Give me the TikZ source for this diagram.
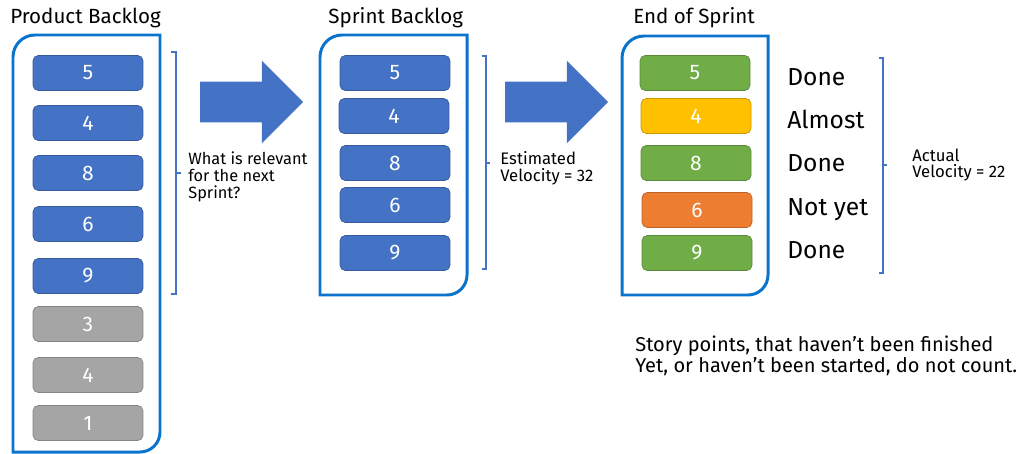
\documentclass[tikz,border=0pt]{standalone}
\usepackage{fontspec}
\setmainfont{Fira Sans}
\usetikzlibrary{positioning, shapes.arrows}
\definecolor{frameblue}{HTML}{0A74CC}
\definecolor{cardblue}{HTML}{4472C4}
\definecolor{cardgrey}{HTML}{A5A5A5}
\definecolor{cardgreen}{HTML}{70AD47}
\definecolor{cardyellow}{HTML}{FFC000}
\definecolor{cardorange}{HTML}{ED7D31}

\begin{document}
\begin{tikzpicture}[x=0.02cm, y=-0.02cm,
  frame/.style={draw=frameblue, line width=1.7pt},
  card/.style={rectangle, rounded corners=3pt, draw=#1!80!black, fill=#1, text=white,
               minimum width=2.2cm, minimum height=0.7cm, inner sep=0pt,
               font=\fontsize{12}{12}\selectfont},
  title/.style={anchor=west, inner sep=0pt, font=\fontsize{11.7}{12}\selectfont},
  status/.style={anchor=west, inner sep=0pt, text height=1.6ex, text depth=0.2ex,
                 font=\fontsize{14}{14}\selectfont},
  note/.style={anchor=west, inner sep=0pt, align=left},
  brk/.style={draw=cardblue, line width=0.6pt},
  bigarrow/.style={single arrow, fill=cardblue, inner sep=0pt,
                   minimum height=2.06cm, text height=0.4cm, text depth=0.4cm,
                   text width=0pt, single arrow head extend=0.42cm}]
\useasboundingbox (0,0) rectangle (1030,453);
% frames
\draw[frame] (13,452) -- (13,57) arc[start angle=180, end angle=270, radius=22]
  -- (160,35) -- (160,432) arc[start angle=0, end angle=90, radius=20] -- cycle;
\draw[frame] (320,295) -- (320,57) arc[start angle=180, end angle=270, radius=22]
  -- (467,35) -- (467,275) arc[start angle=0, end angle=90, radius=20] -- cycle;
\draw[frame] (622,295) -- (622,58) arc[start angle=180, end angle=270, radius=22]
  -- (768,36) -- (768,275) arc[start angle=0, end angle=90, radius=20] -- cycle;
\node[title] (tprod) at (10,18) {Product Backlog};
\node[title] (tspr) at (328,18) {Sprint Backlog};
\node[title] (tend) at (633,18) {End of Sprint};
% product backlog
\node[card=cardblue] (p1) at (88,73) {5};
\node[card=cardblue] (p2) at (88,123) {4};
\node[card=cardblue] (p3) at (88,173) {8};
\node[card=cardblue] (p4) at (88,224) {6};
\node[card=cardblue] (p5) at (88,276) {9};
\node[card=cardgrey] (p6) at (88,324) {3};
\node[card=cardgrey] (p7) at (88,375) {4};
\node[card=cardgrey] (p8) at (88,423) {1};
% sprint backlog
\node[card=cardblue] (s1) at (395,73) {5};
\node[card=cardblue] (s2) at (394,116) {4};
\node[card=cardblue] (s3) at (395,163) {8};
\node[card=cardblue] (s4) at (395,205) {6};
\node[card=cardblue] (s5) at (395,253) {9};
% end of sprint
\node[card=cardgreen] (e1) at (695,73) {5};
\node[card=cardyellow] (e2) at (696,116) {4};
\node[card=cardgreen] (e3) at (696,163) {8};
\node[card=cardorange] (e4) at (697,210) {6};
\node[card=cardgreen] (e5) at (697,253) {9};
\node[status] (d1) at (787,79) {Done};
\node[status] (d2) at (787,122) {Almost};
\node[status] (d3) at (787,165) {Done};
\node[status] (d4) at (787,209) {Not yet};
\node[status] (d5) at (787,252) {Done};
% arrows
\node[bigarrow] (ar1) at (241.5,102) {};
\node[bigarrow] (ar2) at (546.5,102) {};
% brackets
\draw[brk] (171,52) -- (176,52) -- (176,294) -- (171,294); \draw[brk] (176,173) -- (181,173);
\draw[brk] (482,56) -- (486,56) -- (486,269) -- (482,269); \draw[brk] (486,163) -- (490,163);
\draw[brk] (879,58) -- (883,58) -- (883,273) -- (879,273); \draw[brk] (883,165) -- (887,165);
\node[note, font=\fontsize{9.3}{9.6}\selectfont] (q) at (188,177) {What is relevant\\for the next\\Sprint?};
\node[note, font=\fontsize{9.5}{9.6}\selectfont] (ev) at (500,168) {Estimated\\Velocity = 32};
\node[note, font=\fontsize{9.5}{9.4}\selectfont] (av) at (912,165) {Actual\\Velocity = 22};
\node[note, font=\fontsize{11.4}{10.5}\selectfont] (sp) at (635,356)
  {Story points, that haven’t been finished\\Yet, or haven’t been started, do not count.};
\end{tikzpicture}
\end{document}
